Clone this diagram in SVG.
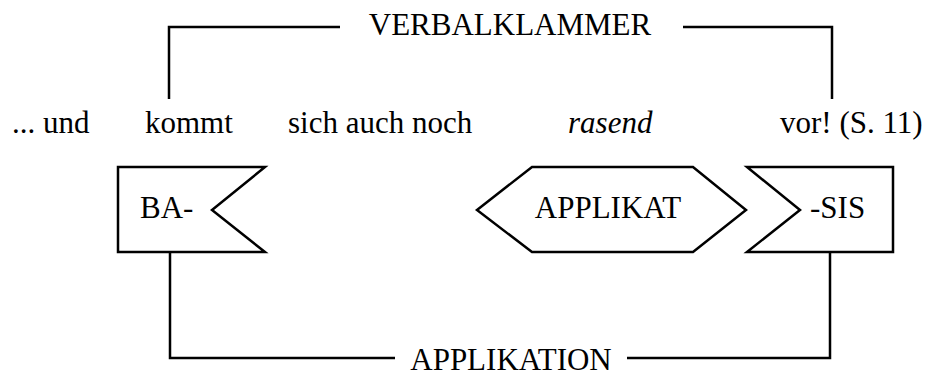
<svg xmlns="http://www.w3.org/2000/svg" width="930" height="377" viewBox="0 0 930 377">
<style>
text{font-family:"Liberation Serif","Times New Roman",serif;font-size:31px;fill:#000}
.it{font-style:italic}
.shape{fill:#fff;stroke:#000;stroke-width:2.5;stroke-linejoin:miter}
.conn{fill:none;stroke:#000;stroke-width:2.5}
</style>
<rect width="930" height="377" fill="#fff"/>
<g id="connectors">
<polyline class="conn" points="169,99 169,27 340,27"/>
<polyline class="conn" points="683,27 832,27 832,99"/>
<polyline class="conn" points="170,253 170,358 395,358"/>
<polyline class="conn" points="627,358 830,358 830,253"/>
</g>
<g id="verbalklammer"><text x="510" y="35" text-anchor="middle">VERBALKLAMMER</text></g>
<g id="applikation"><text x="511" y="370" text-anchor="middle">APPLIKATION</text></g>
<g id="words">
<text x="12" y="133">... und</text>
<text x="145" y="133">kommt</text>
<text x="288" y="133">sich auch noch</text>
<text class="it" x="568" y="133">rasend</text>
<text x="780" y="133">vor! (S. 11)</text>
</g>
<g id="ba">
<polygon class="shape" points="118,167 265,167 212,210 265,252 118,252"/>
<text x="140" y="218">BA-</text>
</g>
<g id="applikat">
<polygon class="shape" points="477,210 532,167 693,167 746,210 693,252 532,252"/>
<text x="608" y="218" text-anchor="middle">APPLIKAT</text>
</g>
<g id="sis">
<polygon class="shape" points="747,167 893,167 893,252 747,252 800,210"/>
<text x="810" y="218">-SIS</text>
</g>
</svg>
